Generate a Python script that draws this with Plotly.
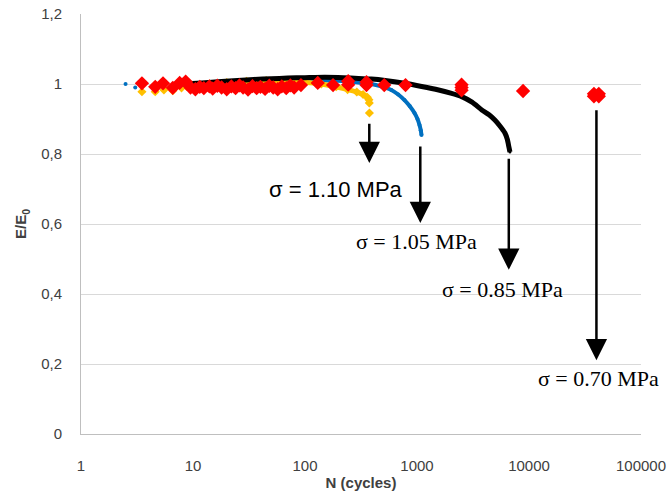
import plotly.graph_objects as go
import math

# ---- data ----
# sigma = 1.10 MPa (yellow)
y110_n = [3.5, 4.6, 5.5, 6.6, 7.9, 8.8, 10, 14, 20, 30, 45, 70, 100, 140, 190, 240, 290, 330, 360, 372, 375, 376]
y110_v = [0.978, 0.978, 0.983, 0.981, 0.989, 0.993, 0.995, 1.0, 1.004, 1.008, 1.01, 1.008, 1.005, 1.0, 0.992, 0.984, 0.977, 0.97, 0.962, 0.955, 0.946, 0.917]

# sigma = 1.05 MPa (blue)
b105_n = [2.5, 3.05, 9, 12, 16, 22, 30, 45, 65, 90, 130, 180, 250, 320, 391, 480, 590, 680, 773, 860, 950, 1010, 1053, 1080, 1097]
b105_v = [1.0, 0.99, 0.997, 1.0, 1.002, 1.004, 1.006, 1.008, 1.01, 1.011, 1.011, 1.01, 1.007, 1.003, 1.0, 0.993, 0.983, 0.97, 0.954, 0.937, 0.917, 0.9, 0.883, 0.868, 0.854]

# sigma = 0.85 MPa (black)
k085_n = [8, 12, 18, 25, 35, 50, 70, 100, 150, 220, 300, 391, 520, 773, 1100, 1560, 2000, 2506, 3100, 3787, 4400, 4955, 5500, 6096, 6400, 6617, 6760]
k085_v = [1.0, 1.003, 1.007, 1.01, 1.013, 1.015, 1.017, 1.018, 1.019, 1.018, 1.016, 1.014, 1.01, 1.002, 0.993, 0.983, 0.974, 0.964, 0.948, 0.926, 0.912, 0.897, 0.88, 0.86, 0.842, 0.82, 0.806]

# sigma = 0.70 MPa (red)
r070_n = [3.5, 4.6, 5.4, 6.6, 7.6, 8.6, 9.5, 10.5, 11.5, 12.5, 14, 15, 16.5, 18, 20, 22, 24, 26, 28, 31,
          34, 37, 40, 44, 48, 52, 57, 62, 68, 74, 80, 92, 130, 178, 243, 243, 354, 354, 510, 790,
          2500, 2500, 2500, 8850, 38000, 38000, 42000, 42000]
r070_v = [1.002, 0.992, 1.002, 0.989, 1.003, 1.007, 0.99, 0.985, 0.992, 0.988, 0.993, 0.987, 0.995, 0.99, 0.985, 0.993, 0.988, 0.996, 0.99, 0.984,
          0.994, 0.988, 0.992, 0.986, 0.995, 0.99, 0.985, 0.993, 0.988, 0.996, 0.99, 0.997, 1.003, 0.997, 0.998, 1.008, 0.997, 1.005, 0.997, 0.997,
          0.982, 0.99, 0.998, 0.98, 0.965, 0.972, 0.965, 0.972]

# arrows: (x in cycles, y start, y end)
arrow_x = [375, 1070, 6600, 40000]
arrow_y0 = [0.891, 0.826, 0.791, 0.929]
arrow_y1 = [0.774, 0.603, 0.469, 0.211]

labels = ["σ = 1.10 MPa", "σ = 1.05 MPa", "σ = 0.85 MPa", "σ = 0.70 MPa"]
label_x = [190, 980, 5850, 41700]
label_y = [0.70, 0.549, 0.414, 0.16]
label_fonts = ["Liberation Sans", "Liberation Serif", "Liberation Serif", "Liberation Serif"]
label_sizes = [22, 22, 22, 22]

y_ticks = [0, 0.2, 0.4, 0.6, 0.8, 1.0, 1.2]
y_tick_text = ["0", "0,2", "0,4", "0,6", "0,8", "1", "1,2"]
x_ticks = [1, 10, 100, 1000, 10000, 100000]
x_tick_text = ["1", "10", "100", "1000", "10000", "100000"]

fig = go.Figure()

# blue
fig.add_trace(go.Scatter(x=b105_n[2:], y=b105_v[2:], mode="lines", line=dict(color="#0070C0", width=4, shape="spline", smoothing=0.6), hoverinfo="skip", showlegend=False))
fig.add_trace(go.Scatter(x=b105_n, y=b105_v, mode="markers", marker=dict(color="#0070C0", size=4), showlegend=False))
# yellow
fig.add_trace(go.Scatter(x=y110_n[6:20], y=y110_v[6:20], mode="lines", line=dict(color="#FFC000", width=5, shape="spline", smoothing=0.6), hoverinfo="skip", showlegend=False))
fig.add_trace(go.Scatter(x=y110_n, y=y110_v, mode="markers", marker=dict(color="#FFC000", size=7, symbol="diamond"), showlegend=False))
# black
fig.add_trace(go.Scatter(x=k085_n, y=k085_v, mode="lines", line=dict(color="#000000", width=5, shape="spline", smoothing=0.6), hoverinfo="skip", showlegend=False))
fig.add_trace(go.Scatter(x=k085_n, y=k085_v, mode="markers", marker=dict(color="#000000", size=3), showlegend=False))
# red
fig.add_trace(go.Scatter(x=r070_n, y=r070_v, mode="markers", marker=dict(color="#FF0000", size=11, symbol="diamond"), showlegend=False))

for i in range(len(arrow_x)):
    lx = math.log10(arrow_x[i])
    fig.add_annotation(x=lx, y=arrow_y1[i], ax=lx, ay=arrow_y0[i], xref="x", yref="y", axref="x", ayref="y",
                       text="", showarrow=True, arrowhead=2, arrowsize=1.7, arrowwidth=2.5, arrowcolor="#000000")
    fig.add_annotation(x=math.log10(label_x[i]), y=label_y[i], xref="x", yref="y", text=labels[i], showarrow=False,
                       font=dict(family=label_fonts[i], size=label_sizes[i], color="#000000"))

fig.update_layout(
    width=672, height=498,
    margin=dict(l=81, r=31, t=14, b=64, autoexpand=False),
    plot_bgcolor="white", paper_bgcolor="white",
    font=dict(family="Liberation Sans", size=15, color="#404040"),
)
fig.update_xaxes(type="log", range=[0, 5], tickvals=x_ticks, ticktext=x_tick_text, showgrid=False, automargin=False,
                 showline=True, linecolor="#BFBFBF", linewidth=1, ticks="", ticklabelstandoff=18,
                 title=dict(text="<b>N (cycles)</b>", font=dict(size=15, color="#404040"), standoff=4))
fig.update_yaxes(range=[0, 1.2], tickvals=y_ticks, ticktext=y_tick_text, showgrid=True, gridcolor="#D9D9D9", automargin=False,
                 showline=True, linecolor="#BFBFBF", linewidth=1, ticks="", ticklabelstandoff=15, zeroline=False,
                 title=dict(text="<b>E/E<sub>0</sub></b>", font=dict(size=15, color="#404040"), standoff=10))

# remove the default 8px page margin so the figure fills the window exactly
fig.write_html("out.html", config={"displayModeBar": False},
               post_script="document.body.style.margin='0px';")
